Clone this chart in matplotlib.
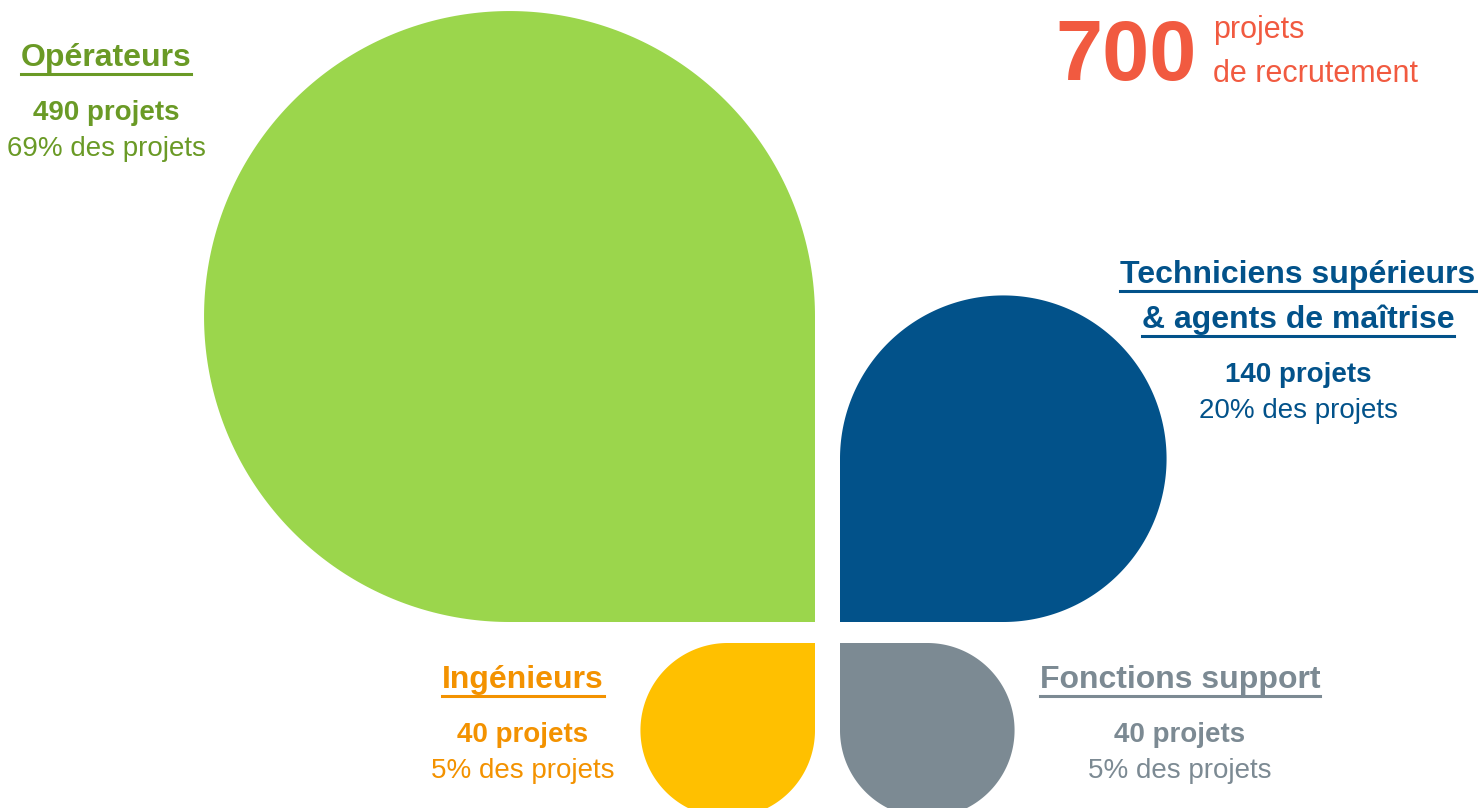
import numpy as np
import matplotlib.pyplot as plt
from matplotlib.patches import Polygon

plt.rcParams['font.family'] = ['Liberation Sans Narrow', 'Liberation Sans', 'DejaVu Sans']

# --- données ---
categories = ["Opérateurs", "Techniciens supérieurs\n& agents de maîtrise", "Ingénieurs", "Fonctions support"]
projets = [490, 140, 40, 40]
parts = [69, 20, 5, 5]
total = 700

couleurs = ["#9BD64C", "#02528A", "#FFC000", "#7C8A93"]
couleurs_texte = ["#6A9A26", "#02528A", "#F39200", "#7C8A93"]

# coin carré de chaque goutte (en pixels) et quadrant du coin
coins = [(815, 622), (840, 622), (815, 643), (840, 643)]
quadrants = [0, 90, 270, 180]
echelle = 27.6  # côté = echelle * sqrt(projets)

# position du titre (centre x, y de la 1re ligne)
pos_titres = [(106, 58), (1298, 275), (523, 680), (1180, 680)]


def goutte(coin, q, cote, couleur):
    r = cote / 2
    sx = np.sign(np.cos(np.radians(q + 45)))
    sy = np.sign(np.sin(np.radians(q + 45)))
    cx, cy = coin[0] - sx * r, coin[1] - sy * r
    t = np.radians(np.linspace(q + 90, q + 360, 300))
    pts = np.column_stack([cx + r * np.cos(t), cy + r * np.sin(t)])
    pts = np.vstack([pts, coin])
    return Polygon(pts, closed=True, facecolor=couleur, edgecolor="none")


fig = plt.figure(figsize=(14.78, 8.08), dpi=100)
ax = fig.add_axes([0, 0, 1, 1])
ax.set_xlim(0, 1478)
ax.set_ylim(808, 0)
ax.axis("off")

for v, coin, q, c in zip(projets, coins, quadrants, couleurs):
    ax.add_patch(goutte(coin, q, echelle * np.sqrt(v), c))

titres = []
for cat, v, p, (x, y), ct in zip(categories, projets, parts, pos_titres, couleurs_texte):
    lignes = cat.split("\n")
    for i, l in enumerate(lignes):
        t = ax.text(x, y + 45 * i, l, ha="center", va="center", fontsize=23,
                    fontweight="bold", color=ct)
        titres.append((t, ct))
    y_der = y + 45 * (len(lignes) - 1)
    ax.text(x, y_der + 55, f"{v} projets", ha="center", va="center",
            fontsize=20, fontweight="bold", color=ct)
    ax.text(x, y_der + 91, f"{p}% des projets", ha="center", va="center",
            fontsize=20, color=ct)

# --- total ---
rouge = "#F15A40"
ax.text(1197, 80, str(total), ha="right", va="baseline", fontsize=61,
        fontweight="bold", color=rouge)
ax.text(1213, 38, "projets", ha="left", va="baseline", fontsize=22, color=rouge)
ax.text(1213, 82, "de recrutement", ha="left", va="baseline", fontsize=22, color=rouge)

# --- soulignement des titres ---
fig.canvas.draw()
rend = fig.canvas.get_renderer()
inv = ax.transData.inverted()
for t, ct in titres:
    bb = t.get_window_extent(rend)
    (x0, y0), (x1, y1) = inv.transform([(bb.x0, bb.y0), (bb.x1, bb.y1)])
    ax.plot([x0, x1], [y0 + 1, y0 + 1], color=ct, lw=2.2)

fig.savefig("out.png", dpi=100)
